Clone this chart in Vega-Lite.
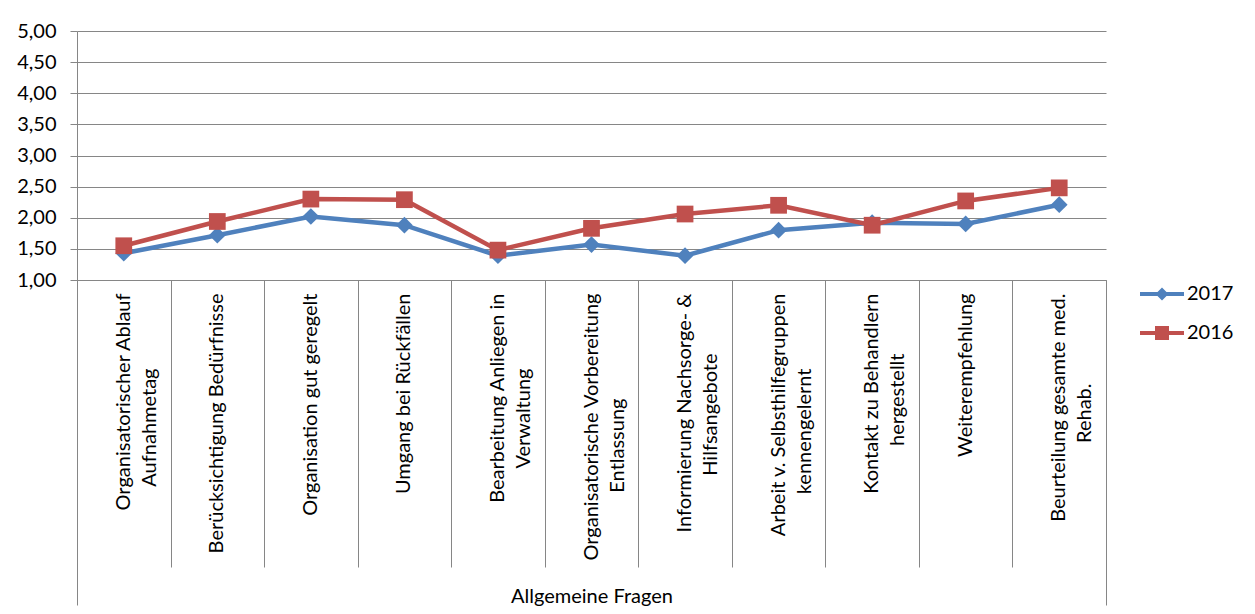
{
  "$schema": "https://vega.github.io/schema/vega-lite/v6.json",
  "width": 1029,
  "height": 249,
  "autosize": {"type": "none"},
  "padding": {"left": 77, "top": 31, "right": 149, "bottom": 334},
  "background": "white",
  "config": {
    "locale": {"number": {"decimal": ",", "thousands": ".", "grouping": [3], "currency": ["", " €"]}},
    "view": {"stroke": null},
    "font": "Lato",
    "axis": {"labelFont": "Lato", "labelFontSize": 20, "labelColor": "#000000", "titleFont": "Lato", "titleFontSize": 20, "titleColor": "#000000", "titleFontWeight": "normal", "domainColor": "#868686", "tickColor": "#868686", "gridColor": "#868686", "domainWidth": 1, "tickWidth": 1, "gridWidth": 1}
  },
  "data": {"values": [
    {"q": "Organisatorischer Ablauf\nAufnahmetag", "year": "2017", "value": 1.43},
    {"q": "Berücksichtigung Bedürfnisse", "year": "2017", "value": 1.72},
    {"q": "Organisation gut geregelt", "year": "2017", "value": 2.02},
    {"q": "Umgang bei Rückfällen", "year": "2017", "value": 1.88},
    {"q": "Bearbeitung Anliegen in\nVerwaltung", "year": "2017", "value": 1.39},
    {"q": "Organisatorische Vorbereitung\nEntlassung", "year": "2017", "value": 1.57},
    {"q": "Informierung Nachsorge- &\nHilfsangebote", "year": "2017", "value": 1.39},
    {"q": "Arbeit v. Selbsthilfegruppen\nkennengelernt", "year": "2017", "value": 1.80},
    {"q": "Kontakt zu Behandlern\nhergestellt", "year": "2017", "value": 1.92},
    {"q": "Weiterempfehlung", "year": "2017", "value": 1.90},
    {"q": "Beurteilung gesamte med.\nRehab.", "year": "2017", "value": 2.21},
    {"q": "Organisatorischer Ablauf\nAufnahmetag", "year": "2016", "value": 1.55},
    {"q": "Berücksichtigung Bedürfnisse", "year": "2016", "value": 1.94},
    {"q": "Organisation gut geregelt", "year": "2016", "value": 2.30},
    {"q": "Umgang bei Rückfällen", "year": "2016", "value": 2.29},
    {"q": "Bearbeitung Anliegen in\nVerwaltung", "year": "2016", "value": 1.48},
    {"q": "Organisatorische Vorbereitung\nEntlassung", "year": "2016", "value": 1.83},
    {"q": "Informierung Nachsorge- &\nHilfsangebote", "year": "2016", "value": 2.06},
    {"q": "Arbeit v. Selbsthilfegruppen\nkennengelernt", "year": "2016", "value": 2.20},
    {"q": "Kontakt zu Behandlern\nhergestellt", "year": "2016", "value": 1.88},
    {"q": "Weiterempfehlung", "year": "2016", "value": 2.27},
    {"q": "Beurteilung gesamte med.\nRehab.", "year": "2016", "value": 2.48}
  ]},
  "layer": [
    {
      "mark": {"type": "point", "opacity": 0},
      "encoding": {
        "x": {"field": "q", "type": "nominal", "sort": null, "bandPosition": 0.5,
              "scale": {"type": "band", "paddingInner": 0, "paddingOuter": 0},
              "axis": {"orient": "bottom", "tickBand": "extent", "tickSize": 287, "labels": false, "domain": false, "grid": false, "title": null}},
        "y": {"field": "value", "type": "quantitative", "axis": null}
      }
    },
    {
      "mark": {"type": "point", "opacity": 0},
      "encoding": {
        "x": {"field": "q", "type": "nominal", "sort": null, "bandPosition": 0.5,
              "axis": {"orient": "bottom", "values": ["Organisatorischer Ablauf\nAufnahmetag"], "bandPosition": 0, "tickSize": 325, "labels": false, "domain": false, "grid": false, "title": null}},
        "y": {"field": "value", "type": "quantitative", "axis": null}
      }
    },
    {
      "mark": {"type": "point", "opacity": 0},
      "encoding": {
        "x": {"field": "q", "type": "nominal", "sort": null, "bandPosition": 0.5,
              "axis": {"orient": "bottom", "values": ["Beurteilung gesamte med.\nRehab."], "bandPosition": 1, "tickSize": 325, "labels": false, "domain": false, "grid": false, "title": null}},
        "y": {"field": "value", "type": "quantitative", "axis": null}
      }
    },
    {
      "mark": {"type": "point", "filled": true, "opacity": 0},
      "encoding": {
        "x": {"field": "q", "type": "nominal", "sort": null, "bandPosition": 0.5, "axis": null},
        "y": {"field": "value", "type": "quantitative", "axis": null},
        "color": {"field": "year", "type": "nominal", "sort": null,
                  "legend": {"orient": "none", "legendX": 1075, "legendY": 253, "title": null, "padding": 0,
                             "labelFont": "Lato", "labelFontSize": 20, "labelColor": "#000000", "labelOffset": 15,
                             "symbolSize": 400, "rowPadding": 19, "symbolOpacity": 1, "symbolStrokeWidth": 0}},
        "shape": {"field": "year", "type": "nominal", "sort": null,
                  "scale": {"domain": ["2017", "2016"], "range": ["M-2.2,-0.2H2.2V0.2H-2.2Z M0,-0.65L0.65,0L0,0.65L-0.65,0Z", "M-2.2,-0.2H2.2V0.2H-2.2Z M-0.7,-0.7H0.7V0.7H-0.7Z"]},
                  "legend": {"orient": "none", "legendX": 1075, "legendY": 253, "title": null, "padding": 0,
                             "labelFont": "Lato", "labelFontSize": 20, "labelColor": "#000000", "labelOffset": 15,
                             "symbolSize": 400, "rowPadding": 19, "symbolOpacity": 1, "symbolStrokeWidth": 0}}
      }
    },
    {
      "mark": {"type": "line", "strokeWidth": 4.5},
      "encoding": {
        "x": {"field": "q", "type": "nominal", "sort": null, "bandPosition": 0.5,
              "axis": {"orient": "bottom", "ticks": false, "tickSize": 0, "labelAngle": -90, "labelAlign": "right", "labelBaseline": "middle", "labelPadding": 13, "labelLimit": 0, "labelLineHeight": 26,
                       "labelExpr": "indexof(datum.label, '\\n') < 0 ? datum.label : [split(datum.label, '\\n')[0], pad(split(datum.label, '\\n')[1], length(split(datum.label, '\\n')[1]) + round((length(split(datum.label, '\\n')[0]) - length(split(datum.label, '\\n')[1])) * 0.36), '\u2800')]",
                       "title": "Allgemeine Fragen", "titleY": 316, "titleBaseline": "middle", "grid": false}},
        "y": {"field": "value", "type": "quantitative",
              "scale": {"domain": [1, 5], "nice": false, "zero": false},
              "axis": {"orient": "left", "values": [1, 1.5, 2, 2.5, 3, 3.5, 4, 4.5, 5], "format": ".2f", "grid": true, "tickSize": 7, "labelPadding": 14, "title": null}},
        "color": {"field": "year", "type": "nominal", "sort": null,
                  "scale": {"domain": ["2017", "2016"], "range": ["#4F81BD", "#C0504D"]}, "legend": null}
      }
    },
    {
      "mark": {"type": "point", "filled": true, "opacity": 1, "size": 280},
      "encoding": {
        "x": {"field": "q", "type": "nominal", "sort": null, "bandPosition": 0.5, "axis": null},
        "y": {"field": "value", "type": "quantitative", "axis": null},
        "color": {"field": "year", "type": "nominal", "sort": null, "legend": null},
        "shape": {"field": "year", "type": "nominal", "sort": null,
                  "scale": {"domain": ["2017", "2016"], "range": ["diamond", "square"]}, "legend": null}
      }
    }
  ],
  "resolve": {"axis": {"x": "independent", "y": "independent"}, "legend": {"color": "independent", "shape": "independent"}, "scale": {"shape": "independent"}}
}
